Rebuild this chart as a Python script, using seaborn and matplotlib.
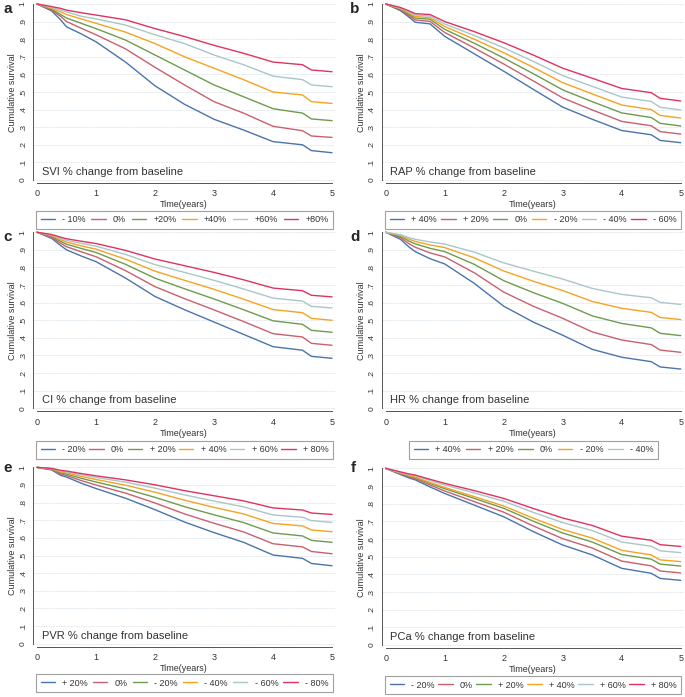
import pandas as pd
import matplotlib
matplotlib.use("Agg")
import matplotlib.pyplot as plt
from matplotlib.lines import Line2D
import seaborn as sns

TIME = [0, 0.25, 0.4, 0.5, 0.75, 1, 1.5, 2, 2.5, 3, 3.5, 4, 4.5, 4.65, 5]

# a - SVI
svi_labels = ['- 10%', '0%', '+20%', '+40%', '+60%', '+80%']
svi_curves = [
    [1, .96, .91, .87, .83, .785, .67, .535, .43, .345, .284, .218, .20, .167, .155],
    [1, .965, .93, .90, .862, .825, .745, .64, .54, .445, .38, .305, .28, .25, .242],
    [1, .97, .94, .92, .89, .86, .795, .71, .625, .54, .473, .405, .38, .347, .337],
    [1, .975, .955, .94, .915, .89, .84, .775, .70, .635, .57, .50, .483, .445, .435],
    [1, .98, .965, .955, .93, .915, .88, .825, .775, .71, .655, .59, .57, .54, .53],
    [1, .985, .975, .965, .95, .937, .91, .86, .815, .765, .72, .67, .655, .625, .615],
]

# b - RAP
rap_labels = ['+ 40%', '+ 20%', '0%', '- 20%', '- 40%', '- 60%']
rap_curves = [
    [1, .962, .924, .896, .887, .816, .717, .618, .515, .414, .345, .281, .257, .225, .212],
    [1, .967, .933, .909, .901, .838, .75, .659, .563, .466, .398, .333, .308, .275, .261],
    [1, .971, .941, .92, .913, .856, .777, .693, .604, .512, .445, .381, .355, .322, .307],
    [1, .974, .948, .929, .922, .872, .80, .723, .64, .553, .489, .426, .40, .367, .352],
    [1, .977, .954, .937, .931, .886, .821, .751, .674, .593, .532, .471, .446, .413, .398],
    [1, .98, .96, .945, .94, .90, .843, .78, .71, .635, .578, .52, .496, .464, .449],
]

# c - CI
ci_labels = ['- 20%', '0%', '+ 20%', '+ 40%', '+ 60%', '+ 80%']
ci_curves = [
    [1, .965, .925, .90, .865, .833, .74, .635, .56, .49, .42, .35, .33, .295, .284],
    [1, .971, .938, .918, .889, .861, .782, .691, .623, .559, .493, .424, .405, .369, .358],
    [1, .977, .949, .932, .908, .885, .818, .739, .679, .621, .56, .497, .477, .443, .432],
    [1, .981, .958, .944, .923, .904, .847, .779, .727, .676, .62, .561, .543, .511, .50],
    [1, .984, .966, .954, .937, .921, .874, .816, .772, .727, .678, .626, .609, .579, .57],
    [1, .987, .972, .963, .949, .936, .897, .848, .81, .772, .73, .683, .668, .642, .633],
]

# d - HR
hr_labels = ['+ 40%', '+ 20%', '0%', '- 20%', '- 40%']
hr_curves = [
    [1, .96, .915, .89, .85, .82, .71, .58, .49, .415, .335, .29, .265, .235, .223],
    [1, .969, .934, .915, .883, .86, .77, .66, .58, .511, .434, .388, .362, .331, .318],
    [1, .976, .949, .934, .909, .89, .818, .725, .657, .596, .525, .482, .457, .426, .413],
    [1, .982, .96, .948, .928, .913, .855, .78, .722, .669, .607, .568, .545, .516, .504],
    [1, .986, .969, .96, .945, .933, .887, .826, .779, .734, .681, .647, .628, .602, .59],
]

# e - PVR
pvr_labels = ['+ 20%', '0%', '- 20%', '- 40%', '- 60%', '- 80%']
pvr_curves = [
    [1, .985, .955, .945, .91, .88, .825, .76, .69, .63, .575, .503, .484, .455, .442],
    [1, .988, .963, .954, .925, .90, .854, .798, .736, .683, .634, .567, .549, .523, .51],
    [1, .99, .969, .962, .938, .917, .878, .83, .777, .731, .687, .628, .611, .586, .575],
    [1, .992, .975, .969, .949, .931, .899, .859, .814, .773, .736, .682, .668, .645, .635],
    [1, .993, .979, .974, .958, .943, .916, .882, .844, .809, .776, .73, .717, .698, .688],
    [1, .994, .983, .979, .965, .952, .929, .901, .868, .839, .81, .77, .758, .741, .733],
]

# f - PCa
pca_labels = ['- 20%', '0%', '+ 20%', '+ 40%', '+ 60%', '+ 80%']
pca_curves = [
    [1, .965, .945, .935, .895, .858, .792, .726, .642, .566, .51, .434, .406, .377, .366],
    [1, .969, .951, .942, .906, .872, .812, .752, .674, .602, .549, .475, .448, .419, .408],
    [1, .972, .956, .948, .915, .885, .83, .774, .701, .634, .583, .512, .486, .458, .447],
    [1, .974, .959, .951, .92, .892, .84, .787, .718, .654, .605, .536, .51, .482, .472],
    [1, .977, .964, .958, .931, .906, .861, .814, .751, .693, .648, .583, .559, .533, .523],
    [1, .98, .968, .962, .938, .915, .874, .83, .773, .719, .677, .616, .593, .568, .558],
]

COLORS = ['#4b74aa', '#c9606f', '#6f9b4e', '#f4a323', '#a9c6c9', '#df335f']

W, H = 685, 697


def box(l, t, r, b):
    return [l / W, 1 - b / H, (r - l) / W, (b - t) / H]


panels = [
    ('a', 'SVI % change from baseline', svi_labels, svi_curves,
     box(33, 2.2, 335, 183), box(36, 211, 333, 229), (3, 9)),
    ('b', 'RAP % change from baseline', rap_labels, rap_curves,
     box(381.7, 2.2, 683.7, 183), box(385, 211, 681, 229), (350, 9)),
    ('c', 'CI % change from baseline', ci_labels, ci_curves,
     box(33, 230.5, 335, 411.3), box(36, 441, 333, 459), (3, 237)),
    ('d', 'HR % change from baseline', hr_labels, hr_curves,
     box(381.7, 230.5, 683.7, 411.3), box(409, 441, 658, 459), (350, 237)),
    ('e', 'PVR % change from baseline', pvr_labels, pvr_curves,
     box(33, 465.6, 335, 646.7), box(36, 674, 333, 692), (3, 468)),
    ('f', 'PCa % change from baseline', pca_labels, pca_curves,
     box(381.7, 466.6, 683.7, 648), box(385, 676, 681, 694), (351, 468)),
]

sns.set_style('white')
plt.rcParams['font.family'] = ['Liberation Sans', 'DejaVu Sans']

fig = plt.figure(figsize=(W / 100, H / 100), dpi=100)

for letter, inner, labels, curves, axbox, legbox, letpos in panels:
    ax = fig.add_axes(axbox)
    rows = []
    for lab, vals in zip(labels, curves):
        for t, s in zip(TIME, vals):
            rows.append({'time': t, 'surv': s, 'group': lab})
    df = pd.DataFrame(rows)
    pal = COLORS[:len(labels)]
    sns.lineplot(data=df, x='time', y='surv', hue='group', hue_order=labels,
                 palette=pal, ax=ax, legend=False, linewidth=1.0)

    ax.set_xlim(-0.068, 5.05)
    ax.set_ylim(-0.017, 1.01)
    ax.set_xticks(range(6))
    ax.set_xticklabels([str(i) for i in range(6)], fontsize=6.5)
    yt = [i / 10 for i in range(11)]
    ax.set_yticks(yt)
    ax.set_yticklabels(['0'] + ['.%d' % i for i in range(1, 10)] + ['1'],
                       rotation=90, va='center', fontsize=6)
    ax.yaxis.grid(True, color='#dce5ec', linestyle=(0, (2, 1)), linewidth=0.6)
    ax.xaxis.grid(False)
    for side in ['top', 'right']:
        ax.spines[side].set_visible(False)
    ax.spines['left'].set_bounds(0, 1)
    ax.spines['bottom'].set_bounds(0, 5)
    for side in ['left', 'bottom']:
        ax.spines[side].set_color('#555555')
        ax.spines[side].set_linewidth(0.7)
    ax.tick_params(axis='both', direction='out', length=3, width=0.6,
                   color='#555555', pad=1.5, labelcolor='#333333')
    ax.set_xlabel('Time(years)', fontsize=6.5, labelpad=1.5, color='#333333')
    ax.set_ylabel('Cumulative survival', fontsize=6.5, labelpad=2, color='#333333')
    ax.text(0.08, 0.045, inner, fontsize=8, va='center', ha='left', color='#333333')

    handles = [Line2D([0], [0], color=c, lw=1.0) for c in pal]
    leg = ax.legend(handles, labels, loc='center', mode='expand', ncol=len(labels),
                    bbox_to_anchor=legbox, bbox_transform=fig.transFigure,
                    borderaxespad=0, fontsize=6.5, handlelength=1.6,
                    handletextpad=0.8, frameon=True, fancybox=False,
                    borderpad=0.5)
    leg.get_frame().set_edgecolor('#8a8a8a')
    leg.get_frame().set_linewidth(0.8)
    for txt in leg.get_texts():
        txt.set_color('#333333')

    fig.text(letpos[0] / W, 1 - letpos[1] / H, letter, fontsize=11,
             fontweight='bold', va='center', ha='left')

fig.savefig('out.png', dpi=100)
